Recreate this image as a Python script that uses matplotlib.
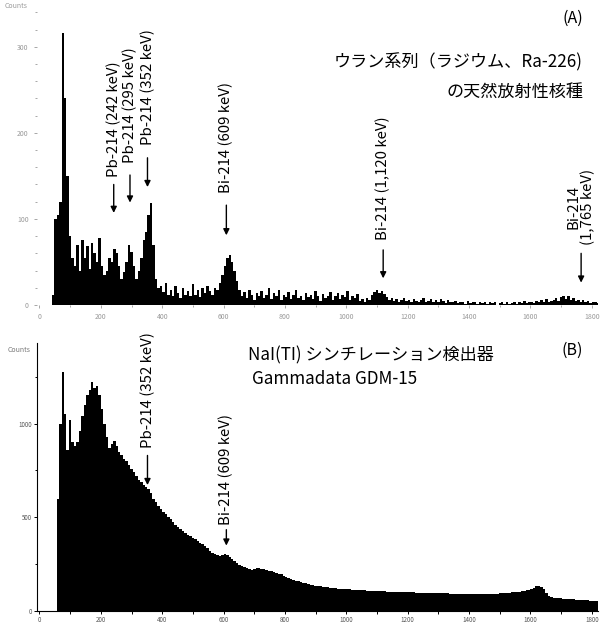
import numpy as np
import matplotlib
matplotlib.use('Agg')
import matplotlib.pyplot as plt
from matplotlib.ticker import MultipleLocator

plt.rcParams['font.family'] = ['Noto Sans CJK JP', 'DejaVu Sans']

# energy bins, 8 keV wide, starting at 0 keV
bin_width = 8

# (A) Ra-226 natural background, counts per bin
counts_a = [
    0, 0, 0, 0, 0, 12, 100, 105, 120, 316,
    240, 150, 80, 55, 45, 70, 40, 75, 55, 68,
    42, 72, 60, 50, 78, 45, 35, 40, 55, 50,
    65, 60, 45, 30, 38, 50, 70, 62, 45, 30,
    40, 55, 75, 85, 105, 118, 70, 30, 20, 22,
    15, 25, 12, 18, 10, 22, 14, 8, 20, 12,
    16, 10, 24, 12, 18, 9, 20, 14, 22, 16,
    12, 20, 18, 25, 35, 45, 55, 58, 50, 40,
    28, 18, 10, 15, 8, 18, 12, 6, 14, 10,
    16, 8, 12, 20, 7, 14, 10, 18, 6, 12,
    9, 15, 7, 12, 18, 8, 11, 6, 14, 9,
    12, 7, 16, 10, 5, 13, 8, 11, 15, 6,
    10, 14, 7, 12, 9, 16, 6, 11, 8, 13,
    5, 7, 4, 8, 6, 12, 15, 17, 14, 16,
    13, 9, 6, 8, 5, 7, 4, 6, 8, 5,
    6, 4, 7, 5, 3, 6, 8, 4, 5, 7,
    4, 6, 3, 7, 5, 2, 6, 4, 3, 5,
    2, 4, 3, 1, 5, 2, 3, 4, 1, 3,
    2, 3, 1, 4, 2, 3, 0, 2, 4, 1,
    3, 1, 2, 4, 1, 3, 2, 5, 2, 3,
    4, 2, 5, 3, 6, 4, 7, 3, 5, 6,
    8, 5, 9, 11, 7, 10, 6, 8, 5, 6,
    4, 6, 3, 5, 2, 4, 3, 2,
]

# (B) NaI(Tl) GDM-15 spectrum, counts per bin
counts_b = [
    0, 0, 0, 0, 0, 0, 0, 600, 1000, 1275,
    1050, 860, 1020, 900, 880, 900, 960, 1040, 1100, 1150,
    1180, 1222, 1190, 1200, 1150, 1080, 1000, 930, 870, 890,
    905, 880, 850, 830, 810, 800, 780, 760, 740, 720,
    700, 690, 670, 660, 650, 630, 600, 580, 560, 545,
    530, 515, 500, 490, 475, 460, 450, 440, 425, 415,
    405, 400, 390, 385, 375, 365, 355, 345, 335, 320,
    310, 305, 300, 295, 300, 305, 300, 290, 280, 265,
    255, 245, 240, 235, 230, 225, 220, 225, 230, 228,
    225, 222, 218, 215, 212, 210, 205, 200, 195, 188,
    182, 176, 170, 166, 162, 158, 154, 150, 147, 144,
    141, 138, 136, 134, 132, 130, 128, 126, 124, 122,
    121, 120, 119, 118, 117, 116, 115, 114, 113, 112,
    111, 110, 110, 109, 108, 108, 107, 106, 106, 105,
    105, 104, 104, 103, 103, 102, 102, 101, 101, 100,
    100, 99, 99, 98, 98, 98, 97, 97, 96, 96,
    96, 95, 95, 95, 94, 94, 94, 93, 93, 93,
    93, 92, 92, 92, 92, 91, 91, 91, 91, 90,
    90, 90, 90, 90, 91, 92, 93, 94, 95, 96,
    97, 98, 99, 100, 102, 104, 106, 108, 110, 112,
    118, 125, 132, 135, 130, 120, 95, 80, 75, 72,
    70, 68, 67, 66, 65, 64, 63, 62, 61, 60,
    59, 58, 57, 57, 56, 55, 55, 54,
]

# peak markers: energy, label, text bottom (counts), arrow start, arrow tip
peaks_a = [242, 295, 352, 609, 1120, 1765]
labels_a = ['Pb-214 (242 keV)', 'Pb-214 (295 keV)', 'Pb-214 (352 keV)',
            'Bi-214 (609 keV)', 'Bi-214 (1,120 keV)', 'Bi-214\n(1,765 keV)']
text_y_a = [149, 165, 186, 130, 76, 70]
arrow_top_a = [140, 151, 171, 116, 64, 60]
arrow_tip_a = [107, 119, 137, 81, 31, 26]

peaks_b = [352, 609]
labels_b = ['Pb-214 (352 keV)', 'Bi-214 (609 keV)']
text_y_b = [868, 460]
arrow_top_b = [830, 434]
arrow_tip_b = [672, 349]


def mark_peaks(ax, peaks, labels, text_y, arrow_top, arrow_tip):
    for e, lab, ty, a0, a1 in zip(peaks, labels, text_y, arrow_top, arrow_tip):
        ax.text(e, ty, lab, rotation=90, ha='center', va='bottom',
                fontsize=10.8, linespacing=1.0)
        ax.annotate('', xy=(e, a1), xytext=(e, a0),
                    arrowprops=dict(arrowstyle='-|>', color='black', lw=1.0,
                                    mutation_scale=9, shrinkA=0, shrinkB=0))


def main():
    fig = plt.figure(figsize=(6.02, 6.25), dpi=100)
    W, H = 602.0, 625.0
    left = 37 / W
    width = 561 / W

    # ---- panel A ----
    edges_a = np.arange(len(counts_a) + 1) * bin_width
    ax1 = fig.add_axes([left, (H - 305) / H, width, 297 / H])
    ax1.stairs(counts_a, edges_a, fill=True, color='black', linewidth=0)
    ax1.set_xlim(-8, 1820)
    ax1.set_ylim(0, 345)
    for s in ax1.spines.values():
        s.set_visible(False)
    ax1.xaxis.set_major_locator(MultipleLocator(200))
    ax1.xaxis.set_minor_locator(MultipleLocator(100))
    ax1.yaxis.set_major_locator(MultipleLocator(100))
    ax1.yaxis.set_minor_locator(MultipleLocator(20))
    ax1.tick_params(which='both', colors='#999999', labelsize=5, length=2.5,
                    width=0.6)
    ax1.tick_params(which='minor', length=1.5)
    mark_peaks(ax1, peaks_a, labels_a, text_y_a, arrow_top_a, arrow_tip_a)

    fig.text(5 / W, 1 - 6 / H, 'Counts', fontsize=5, color='#999999',
             va='center')
    fig.text(583 / W, 1 - 18 / H, '(A)', fontsize=11.5, ha='right', va='center')
    fig.text(583 / W, 1 - 62 / H, 'ウラン系列（ラジウム、Ra-226)', fontsize=12.3,
             ha='right', va='center')
    fig.text(583 / W, 1 - 92 / H, 'の天然放射性核種', fontsize=12.3,
             ha='right', va='center')

    # ---- panel B ----
    edges_b = np.arange(len(counts_b) + 1) * bin_width
    ax2 = fig.add_axes([left, (H - 611) / H, width, 268 / H])
    ax2.stairs(counts_b, edges_b, fill=True, color='black', linewidth=0)
    ax2.set_xlim(-8, 1820)
    ax2.set_ylim(0, 1430)
    ax2.spines['top'].set_visible(False)
    ax2.spines['right'].set_visible(False)
    ax2.spines['left'].set_linewidth(0.8)
    ax2.spines['bottom'].set_linewidth(0.8)
    ax2.xaxis.set_major_locator(MultipleLocator(200))
    ax2.xaxis.set_minor_locator(MultipleLocator(100))
    ax2.yaxis.set_major_locator(MultipleLocator(500))
    ax2.yaxis.set_minor_locator(MultipleLocator(250))
    ax2.tick_params(which='both', labelsize=4.5, labelcolor='#555555',
                    length=2.5, width=0.7, pad=1)
    ax2.tick_params(which='minor', length=1.8)
    mark_peaks(ax2, peaks_b, labels_b, text_y_b, arrow_top_b, arrow_tip_b)

    fig.text(8 / W, 1 - 350 / H, 'Counts', fontsize=5, color='#777777',
             va='center')
    fig.text(583 / W, 1 - 350 / H, '(B)', fontsize=11.5, ha='right', va='center')
    fig.text(248 / W, 1 - 355 / H, 'NaI(TI) シンチレーション検出器', fontsize=12.3,
             va='center')
    fig.text(252 / W, 1 - 379 / H, 'Gammadata GDM-15', fontsize=12.3,
             va='center')

    fig.savefig('out.png', dpi=100)


if __name__ == '__main__':
    main()
